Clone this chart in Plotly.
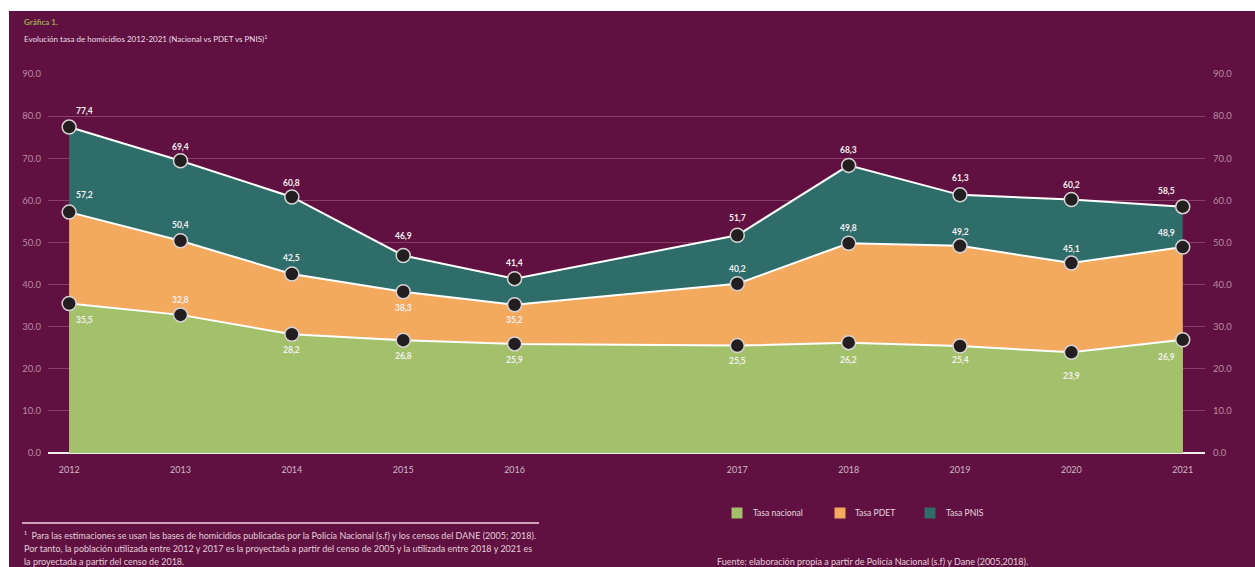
import plotly.graph_objects as go

# ---------------- data ----------------
years = ["2012", "2013", "2014", "2015", "2016", "2017", "2018", "2019", "2020", "2021"]
tasa_nacional = [35.5, 32.8, 28.2, 26.8, 25.9, 25.5, 26.2, 25.4, 23.9, 26.9]
tasa_pdet = [57.2, 50.4, 42.5, 38.3, 35.2, 40.2, 49.8, 49.2, 45.1, 48.9]
tasa_pnis = [77.4, 69.4, 60.8, 46.9, 41.4, 51.7, 68.3, 61.3, 60.2, 58.5]
y_ticks = [0, 10, 20, 30, 40, 50, 60, 70, 80, 90]
series_names = ["Tasa nacional", "Tasa PDET", "Tasa PNIS"]

# ---------------- style ----------------
W, H = 1255, 567
L, R, T, B = 48, 1205, 74, 453
BG = "#611141"
GREEN = "#a2c16a"
ORANGE = "#f4aa5e"
TEAL = "#2f6d6b"
FONT = "Lato"

# category order with an empty slot between 2016 and 2017
cat_order = years[:5] + [" "] + years[5:]

# label offsets in pixels (dx, dy) — dy positive = up
off_pnis = [(15, 16), (0, 14), (0, 14), (0, 20), (0, 16), (0, 17), (0, 15), (0, 17), (0, 14), (-16, 16)]
off_pdet = [(15, 17), (0, 16), (0, 16), (0, -16), (0, -15), (0, 15), (0, 15), (0, 14), (0, 14), (-16, 14)]
off_nac = [(15, -16), (0, 15), (0, -16), (0, -16), (0, -16), (0, -15), (0, -17), (0, -14), (0, -24), (-16, -17)]


def px(x):
    return (x - L) / (R - L)


def py(y):
    return (B - y) / (B - T)


def fmt(v):
    return f"{v:.1f}".replace(".", ",")


fig = go.Figure()

for vals, color, name in [(tasa_pnis, TEAL, series_names[2]),
                          (tasa_pdet, ORANGE, series_names[1]),
                          (tasa_nacional, GREEN, series_names[0])]:
    fig.add_trace(go.Scatter(
        x=years, y=vals, name=name, mode="lines+markers",
        fill="tozeroy", fillcolor=color,
        line=dict(color="white", width=2),
        marker=dict(size=14, color="#231f20", line=dict(color="#d8d2d5", width=1.5)),
        showlegend=False, hoverinfo="skip", cliponaxis=False,
    ))

# dummy trace to activate right axis
fig.add_trace(go.Scatter(x=[years[0]], y=[None], yaxis="y2", showlegend=False, hoverinfo="skip"))

annotations = []
for vals, offs in [(tasa_pnis, off_pnis), (tasa_pdet, off_pdet), (tasa_nacional, off_nac)]:
    for yr, v, (dx, dy) in zip(years, vals, offs):
        annotations.append(dict(
            x=cat_order.index(yr), y=v, xref="x", yref="y", text="<b>" + fmt(v) + "</b>",
            showarrow=False, xshift=dx, yshift=dy, xanchor="center", yanchor="middle",
            font=dict(family=FONT, size=8.5, color="#f4f0f2"),
        ))

# title texts
annotations.append(dict(x=px(22), y=py(22), xref="paper", yref="paper", text="<b>Gráfica 1.</b>",
                        showarrow=False, xanchor="left", yanchor="middle",
                        font=dict(family=FONT, size=8, color="#9ea553")))
annotations.append(dict(x=px(22), y=py(38), xref="paper", yref="paper",
                        text="Evolución tasa de homicidios 2012-2021 (Nacional vs PDET vs PNIS)<sup>1</sup>",
                        showarrow=False, xanchor="left", yanchor="middle",
                        font=dict(family=FONT, size=8, color="#ecdfe6")))

# legend (squares + labels)
shapes = []
legend_items = [(series_names[0], GREEN, 737, 751), (series_names[1], ORANGE, 840, 853), (series_names[2], TEAL, 930, 944)]
for name, color, cx, tx in legend_items:
    shapes.append(dict(type="rect", xref="paper", yref="paper",
                       x0=px(cx - 5.5), x1=px(cx + 5.5), y0=py(518.5), y1=py(507.5),
                       fillcolor=color, line=dict(width=0)))
    annotations.append(dict(x=px(tx), y=py(513), xref="paper", yref="paper", text=name,
                            showarrow=False, xanchor="left", yanchor="middle",
                            font=dict(family=FONT, size=8.6, color="#e6d6df")))

# footnote
shapes.append(dict(type="line", xref="paper", yref="paper", x0=px(22), x1=px(539), y0=py(523), y1=py(523),
                   line=dict(color="#cf9fb8", width=2)))
foot_lines = [
    "¹  Para las estimaciones se usan las bases de homicidios publicadas por la Policía Nacional (s.f) y los censos del DANE (2005; 2018).",
    "Por tanto, la población utilizada entre 2012 y 2017 es la proyectada a partir del censo de 2005 y la utilizada entre 2018 y 2021 es",
    "la proyectada a partir del censo de 2018.",
]
for i, t in enumerate(foot_lines):
    annotations.append(dict(x=px(22), y=py(535.5 + 13 * i), xref="paper", yref="paper", text=t,
                            showarrow=False, xanchor="left", yanchor="middle",
                            font=dict(family=FONT, size=9, color="#e3cfda")))
annotations.append(dict(x=px(715), y=py(561), xref="paper", yref="paper",
                        text="Fuente: elaboración propia a partir de Policía Nacional (s.f) y Dane (2005,2018).",
                        showarrow=False, xanchor="left", yanchor="middle",
                        font=dict(family=FONT, size=9, color="#e3cfda")))

# purple panel behind everything
shapes.insert(0, dict(type="rect", xref="paper", yref="paper", layer="below",
                      x0=px(9), x1=px(W + 5), y0=py(H + 5), y1=py(11),
                      fillcolor=BG, line=dict(width=0)))

yaxis_common = dict(range=[0, 90], tickvals=y_ticks, tickformat=".1f", ticks="",
                    tickfont=dict(family=FONT, size=9.5, color="#b88aa4"))

fig.update_layout(
    width=W, height=H,
    margin=dict(l=L, r=W - R, t=T, b=H - B, pad=0),
    paper_bgcolor="white", plot_bgcolor="rgba(0,0,0,0)",
    showlegend=False,
    xaxis=dict(type="category", categoryorder="array", categoryarray=cat_order,
               range=[-0.19, 10.2], showgrid=False, zeroline=False, showline=False, ticks="",
               tickfont=dict(family=FONT, size=9, color="#cdb8c4"), ticklabelstandoff=10),
    yaxis=dict(**yaxis_common, showgrid=True, gridcolor="#8a3c69", gridwidth=1,
               zeroline=True, zerolinecolor="#f3ecef", zerolinewidth=2, ticklabelstandoff=6),
    yaxis2=dict(**yaxis_common, overlaying="y", side="right", showgrid=False, zeroline=False,
                ticklabelstandoff=7),
    annotations=annotations,
    shapes=shapes,
)

fig.write_html("out.html", config={"displayModeBar": False},
               post_script="document.body.style.margin='0';document.body.style.overflow='hidden';")
